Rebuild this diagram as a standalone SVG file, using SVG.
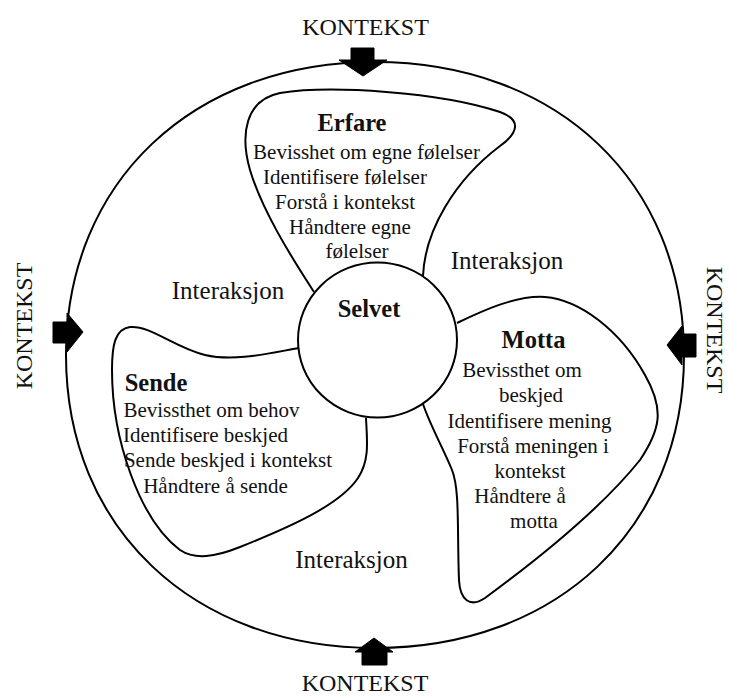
<svg xmlns="http://www.w3.org/2000/svg" width="729" height="698" viewBox="0 0 729 698">
<style>
.ln{fill:none;stroke:#000;stroke-width:2;stroke-linejoin:round}
.bg{fill:#fff}
.t{font-family:"Liberation Serif","Times New Roman",serif;fill:#111;text-anchor:middle}
.b{font-size:21px}
.h{font-size:24.5px;font-weight:bold}
.i{font-size:25px}
.k{font-size:24px}
.ar{fill:#000;stroke:#000;stroke-width:1;stroke-linejoin:round}
</style>
<rect class="bg" x="0" y="0" width="729" height="698"/>
<g id="kontekst">
<path class="ln" d="M684,355 C684,528 557,648 375,648 C193,648 66,528 66,355 C66,182 193,62 375,62 C557,62 684,182 684,355 Z"/>
<text class="t k" x="365.5" y="35">KONTEKST</text>
<text class="t k" x="365" y="691">KONTEKST</text>
<text class="t k" transform="translate(32,326) rotate(-90)">KONTEKST</text>
<text class="t k" transform="translate(707,330) rotate(90)">KONTEKST</text>
</g>
<g id="connectors">
<polygon class="ar" points="351,48 374,48 374,60 387,60 363,76 339,60 351,60"/>
<polygon class="ar" points="53,322 67,322 67,313 83,332 67,352 67,343 53,343"/>
<polygon class="ar" points="696,334 682,334 682,326 667,345 682,365 682,357 696,357"/>
<polygon class="ar" points="374,638 393,652 387,652 387,665 362,665 362,652 355,652"/>
</g>
<g id="erfare">
<path class="ln" d="M314,292 C290,255 262,210 250,170 C240,135 245,100 280,93 C330,85 440,92 500,112 C522,120 518,133 500,146 C455,180 425,230 423,276"/>
<text class="t h" x="352" y="131">Erfare</text>
<text class="t b" x="366.5" y="159">Bevisshet om egne følelser</text>
<text class="t b" x="345" y="184">Identifisere følelser</text>
<text class="t b" x="345" y="209">Forstå i kontekst</text>
<text class="t b" x="350" y="234">Håndtere egne</text>
<text class="t b" x="357" y="258">følelser</text>
</g>
<g id="sende">
<path class="ln" d="M299,348 C270,353 235,362 205,355 C175,348 150,325 130,327 C115,329 112,345 112,370 C112,440 140,520 180,550 C195,560 215,557 240,547 C290,527 340,505 358,478 C370,460 367,440 366,418"/>
<text class="t h" x="156" y="391">Sende</text>
<text class="t b" x="211.5" y="417">Bevissthet om behov</text>
<text class="t b" x="205.5" y="442">Identifisere beskjed</text>
<text class="t b" x="228" y="467">Sende beskjed i kontekst</text>
<text class="t b" x="215.5" y="493">Håndtere å sende</text>
</g>
<g id="motta">
<path class="ln" d="M457,323 C480,312 515,295 545,297 C580,300 620,330 645,375 C665,410 660,430 640,460 C600,510 530,565 485,598 C470,608 460,600 459,580 C457,530 460,490 452,470 C444,450 430,425 423,404"/>
<text class="t h" x="533.5" y="348">Motta</text>
<text class="t b" x="522" y="377">Bevissthet om</text>
<text class="t b" x="531" y="402">beskjed</text>
<text class="t b" x="529.5" y="428">Identifisere mening</text>
<text class="t b" x="533" y="453">Forstå meningen i</text>
<text class="t b" x="530" y="478">kontekst</text>
<text class="t b" x="520" y="503">Håndtere å</text>
<text class="t b" x="534" y="528">motta</text>
</g>
<g id="selvet">
<ellipse class="ln" cx="377.5" cy="340" rx="79.5" ry="77.5"/>
<text class="t h" x="369" y="317">Selvet</text>
</g>
<g id="interaksjon">
<text class="t i" x="228" y="299">Interaksjon</text>
<text class="t i" x="507" y="269">Interaksjon</text>
<text class="t i" x="351.5" y="568">Interaksjon</text>
</g>
</svg>
